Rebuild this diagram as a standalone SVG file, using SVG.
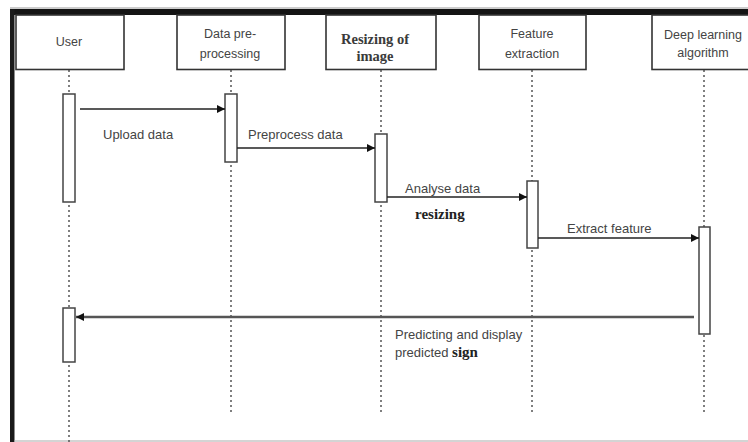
<svg xmlns="http://www.w3.org/2000/svg" width="748" height="442" viewBox="0 0 748 442">
<style>
.hdr{fill:#fff;stroke:#333;stroke-width:1.6}
.ht{font-family:"Liberation Sans",Arial,sans-serif;font-size:12.5px;fill:#444;text-anchor:middle}
.hs{font-family:"Liberation Serif","Times New Roman",serif;font-size:14.5px;font-weight:bold;fill:#3a3a3a;text-anchor:middle}
.life{stroke:#555;stroke-width:1.5;stroke-dasharray:2 3;fill:none}
.act{fill:#fff;stroke:#444;stroke-width:1.5}
.msg{stroke:#222;stroke-width:1.5;fill:none}
.lbl{font-family:"Liberation Sans",Arial,sans-serif;font-size:13px;fill:#444}
.lbs{font-family:"Liberation Serif","Times New Roman",serif;font-size:15px;font-weight:bold;fill:#222}
</style>
<defs>
<marker id="ah" viewBox="0 0 10 10" refX="10" refY="5" markerWidth="8" markerHeight="8" markerUnits="userSpaceOnUse" orient="auto">
<path d="M0,0 L10,5 L0,10 Z" fill="#111"/>
</marker>
</defs>
<rect x="0" y="0" width="748" height="442" fill="#fff"/>
<g id="frame">
<line x1="10" y1="8" x2="748" y2="8" stroke="#999" stroke-width="1"/>
<rect x="10" y="9" width="738" height="6" fill="#141414"/>
<rect x="10" y="9" width="4.5" height="433" fill="#1a1a1a"/>
<line x1="14" y1="441" x2="748" y2="441" stroke="#aaa" stroke-width="1.2"/>
</g>
<g id="lifelines">
<line class="life" x1="69" y1="70" x2="69" y2="442"/>
<line class="life" x1="231" y1="70" x2="231" y2="415"/>
<line class="life" x1="381" y1="70" x2="381" y2="415"/>
<line class="life" x1="532" y1="70" x2="532" y2="415"/>
<line class="life" x1="704" y1="70" x2="704" y2="415"/>
</g>
<g id="user">
<rect class="hdr" x="16" y="15" width="108" height="54.5"/>
<text class="ht" x="69" y="46">User</text>
</g>
<g id="preprocessing">
<rect class="hdr" x="177" y="15" width="108" height="54.5"/>
<text class="ht" x="230" y="38">Data pre-</text>
<text class="ht" x="230" y="58">processing</text>
</g>
<g id="resizing">
<rect class="hdr" x="326" y="15" width="110" height="54.5"/>
<text class="hs" x="375" y="44">Resizing of</text>
<text class="hs" x="375" y="61">image</text>
</g>
<g id="feature">
<rect class="hdr" x="479" y="15" width="107" height="54.5"/>
<text class="ht" x="532" y="38">Feature</text>
<text class="ht" x="532" y="58">extraction</text>
</g>
<g id="deeplearning">
<rect class="hdr" x="652" y="15" width="108" height="54.5"/>
<text class="ht" x="703" y="39">Deep learning</text>
<text class="ht" x="703" y="57">algorithm</text>
</g>
<g id="activations">
<rect class="act" x="63" y="94" width="12" height="108"/>
<rect class="act" x="225" y="94" width="12" height="68"/>
<rect class="act" x="375" y="134" width="12" height="68"/>
<rect class="act" x="527" y="181" width="11" height="67"/>
<rect class="act" x="699" y="227" width="11" height="107"/>
<rect class="act" x="63" y="308" width="12" height="54"/>
</g>
<g id="connectors">
<line class="msg" x1="80" y1="109" x2="225" y2="109" marker-end="url(#ah)"/>
<line class="msg" x1="237" y1="148" x2="375" y2="148" marker-end="url(#ah)"/>
<line class="msg" x1="387" y1="197" x2="527" y2="197" marker-end="url(#ah)"/>
<line class="msg" x1="538" y1="238" x2="699" y2="238" marker-end="url(#ah)"/>
<line x1="694" y1="317" x2="76" y2="317" stroke="#555" stroke-width="2.5" marker-end="url(#ah)"/>
</g>
<g id="labels">
<text class="lbl" x="103" y="139">Upload data</text>
<text class="lbl" x="248" y="139">Preprocess data</text>
<text class="lbl" x="405" y="193">Analyse data</text>
<text class="lbs" x="415" y="219">resizing</text>
<text class="lbl" x="567" y="233">Extract feature</text>
<text class="lbl" x="395" y="339">Predicting and display</text>
<text class="lbl" x="395" y="357">predicted <tspan class="lbs">sign</tspan></text>
</g>
</svg>
